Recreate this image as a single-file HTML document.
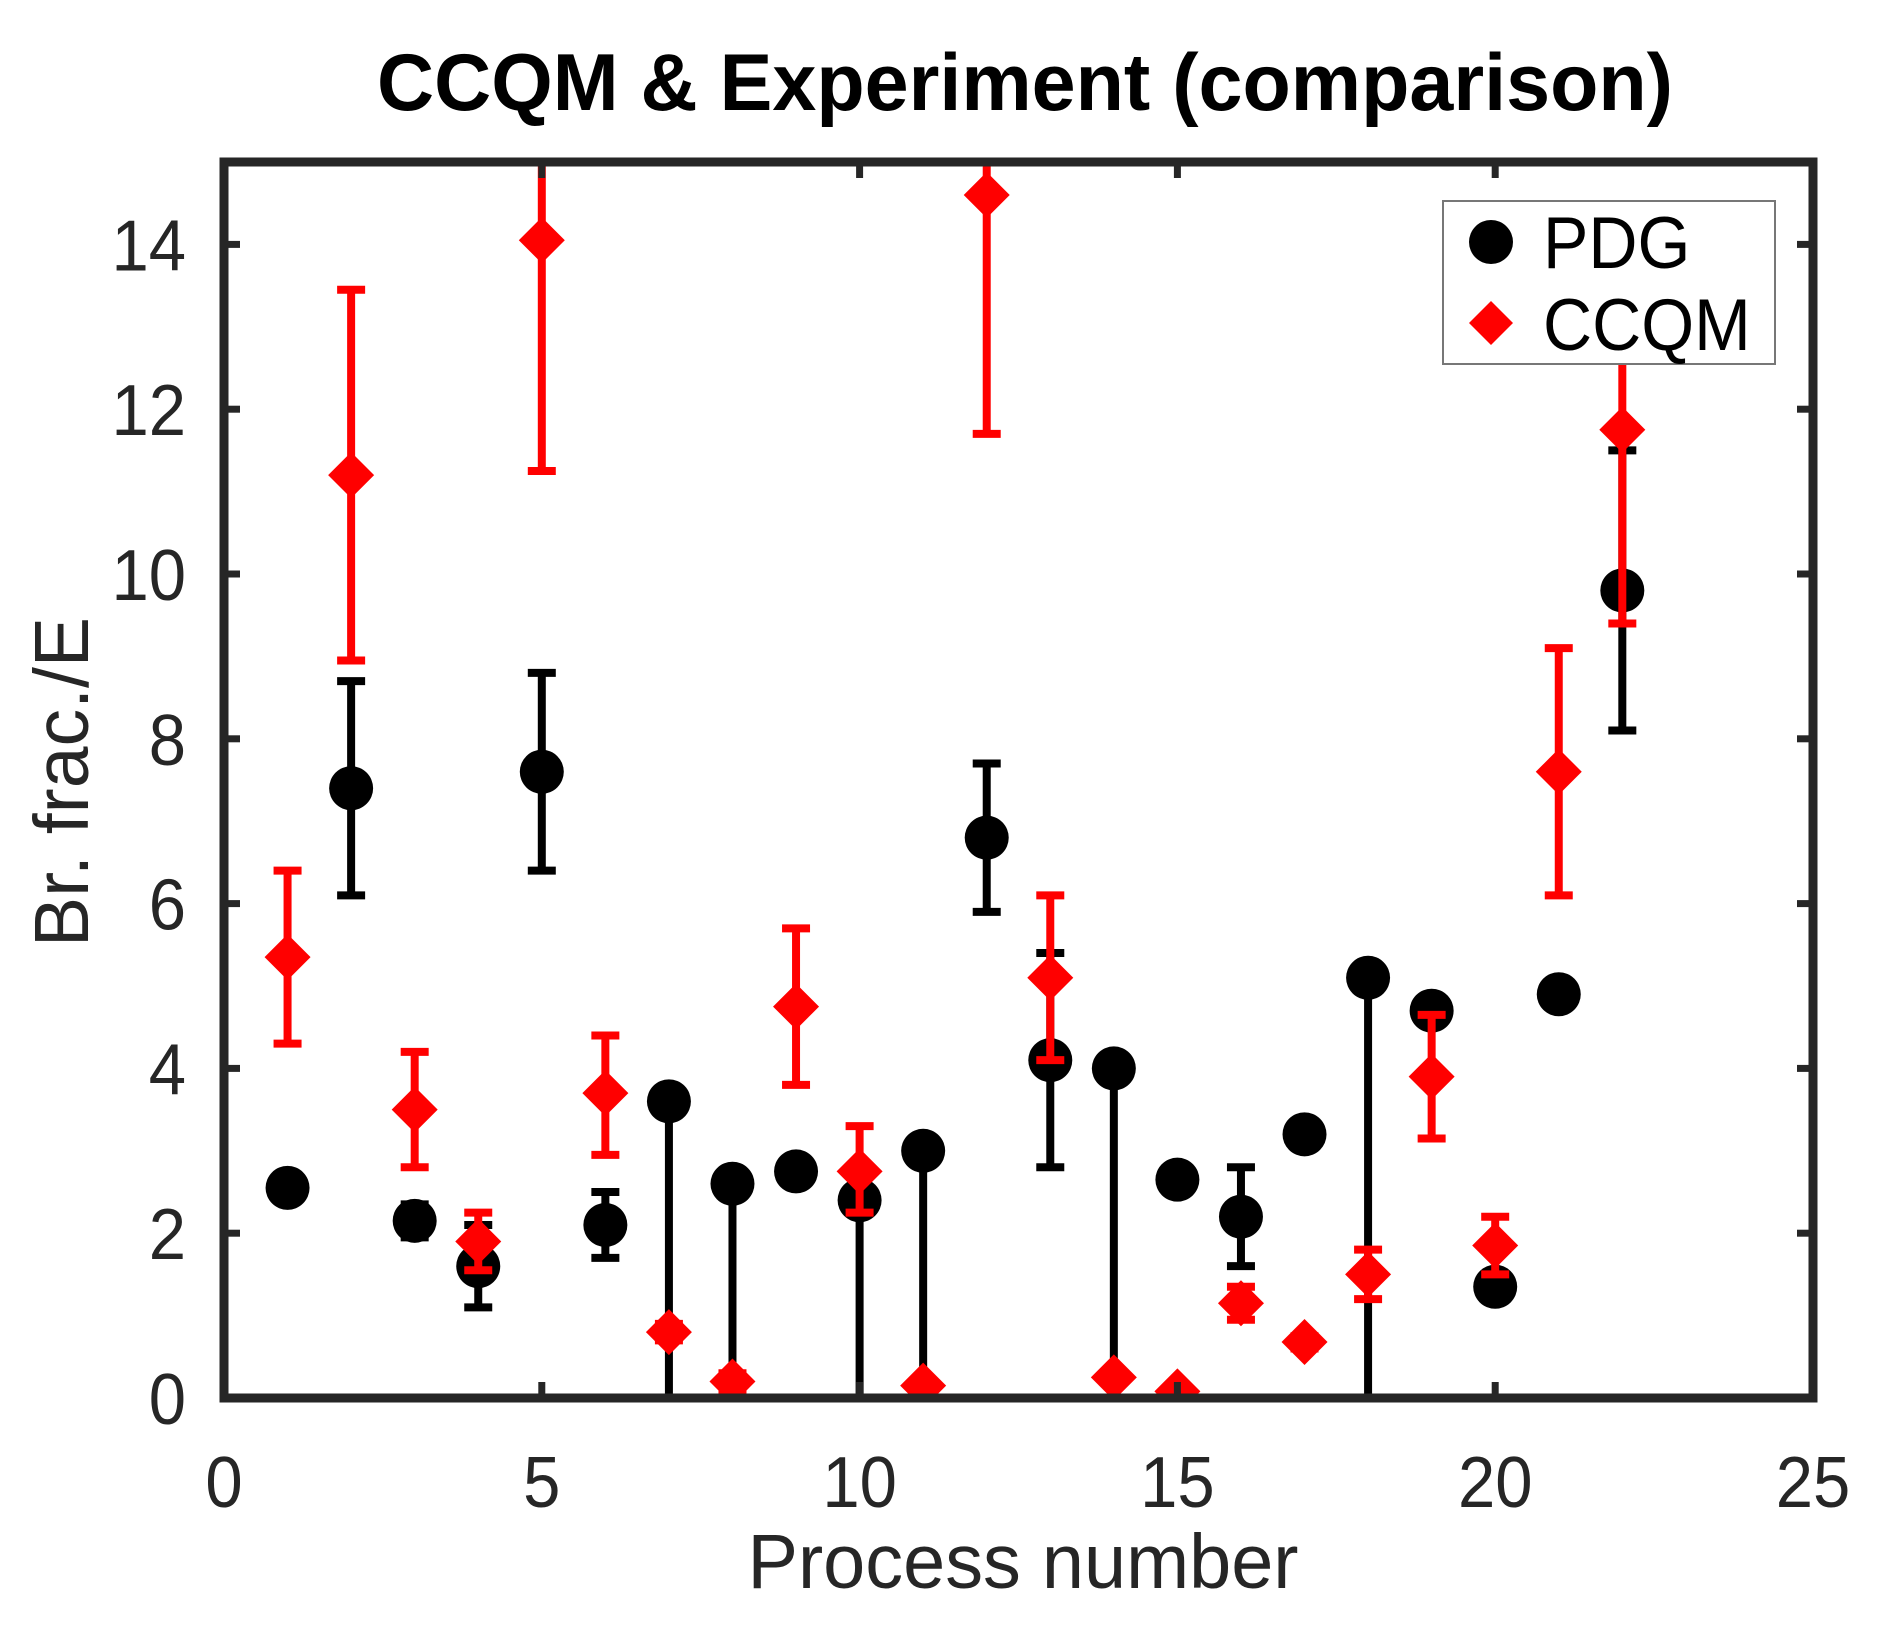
<!DOCTYPE html>
<html><head><meta charset="utf-8"><style>
html,body{margin:0;padding:0;background:#fff;}
svg{display:block;}
text{font-family:"Liberation Sans",Arial,sans-serif;}
</style></head><body>
<svg id="chart" width="1884" height="1626" viewBox="0 0 1884 1626" xmlns="http://www.w3.org/2000/svg">
<defs><clipPath id="plotclip"><rect x="224" y="162" width="1589" height="1236"/></clipPath></defs>
<rect width="1884" height="1626" fill="#fff"/>
<text transform="translate(1025,110) scale(1,1.12)" text-anchor="middle" font-size="72" font-weight="bold" fill="#000" textLength="1296" lengthAdjust="spacingAndGlyphs">CCQM &amp; Experiment (comparison)</text>
<g id="grid"></g>
<g id="marks" clip-path="url(#plotclip)"></g>
<g id="axes"></g>
<text transform="translate(1023,1588) scale(1,1.1)" text-anchor="middle" font-size="70" fill="#262626" textLength="551" lengthAdjust="spacingAndGlyphs">Process number</text>
<text transform="translate(88,782) rotate(-90) scale(1,1.1)" text-anchor="middle" font-size="70" fill="#262626" textLength="330" lengthAdjust="spacingAndGlyphs">Br. frac./E</text>
<g id="legend">
<rect x="1443" y="201" width="332" height="163" fill="#fff" stroke="#777" stroke-width="2"/>
<circle cx="1491" cy="242" r="22" fill="#000"/>
<text transform="translate(1543,268) scale(1,1.08)" font-size="68" fill="#000">PDG</text>
<polygon points="1491,301 1513,323 1491,345 1469,323" fill="#f00"/>
<text transform="translate(1543,350) scale(1,1.08)" font-size="68" fill="#000">CCQM</text>
</g>
</svg>
<script>
const processNumbers = [1,2,3,4,5,6,7,8,9,10,11,12,13,14,15,16,17,18,19,20,21,22];
const pdgValues = [2.55,7.4,2.15,1.6,7.6,2.1,3.6,2.6,2.75,2.4,3.0,6.8,4.1,4.0,2.65,2.2,3.2,5.1,4.7,1.35,4.9,9.8];
const pdgLow    = [2.55,6.1,1.95,1.1,6.4,1.7,0,0,2.75,0,0,5.9,2.8,0,2.65,1.6,3.1,0,4.7,1.35,4.9,8.1];
const pdgHigh   = [2.55,8.7,2.35,2.1,8.8,2.5,3.6,2.6,2.75,2.4,3.0,7.7,5.4,4.0,2.65,2.8,3.3,5.1,4.7,1.35,4.9,11.5];
const ccqmValues = [5.35,11.2,3.5,1.9,14.05,3.7,0.8,0.2,4.75,2.75,0.15,14.6,5.1,0.25,0.08,1.15,0.68,1.5,3.9,1.85,7.6,11.75];
const ccqmLow    = [4.3,8.95,2.8,1.55,11.25,2.95,0.7,0.1,3.8,2.25,0.1,11.7,4.1,0.2,0.05,0.95,0.6,1.2,3.15,1.5,6.1,9.4];
const ccqmHigh   = [6.4,13.45,4.2,2.25,16.9,4.4,0.9,0.3,5.7,3.3,0.2,17.5,6.1,0.3,0.1,1.35,0.75,1.8,4.65,2.2,9.1,14.1];
const xTicks = [0,5,10,15,20,25];
const yTicks = [0,2,4,6,8,10,12,14];

const NS='http://www.w3.org/2000/svg';
const X0=224,X1=1813,Y0=1398,Y1=162,XMAX=25,YMAX=15;
function sx(v){return X0+(X1-X0)*v/XMAX;}
function sy(v){return Y0-(Y0-Y1)*v/YMAX;}
function mk(tag,attrs,parent){const e=document.createElementNS(NS,tag);for(const k in attrs)e.setAttribute(k,attrs[k]);parent.appendChild(e);return e;}
const marks=document.getElementById('marks');
const axes=document.getElementById('axes');

function errbar(i,lo,hi,color,name){
  const g=mk('g',{},marks);
  
  
  const x=sx(processNumbers[i]);
  if(hi-lo<1e-9)return;
  mk('line',{x1:x,x2:x,y1:sy(lo),y2:sy(hi),stroke:color,'stroke-width':8},g);
  mk('line',{x1:x-14,x2:x+14,y1:sy(lo),y2:sy(lo),stroke:color,'stroke-width':8},g);
  mk('line',{x1:x-14,x2:x+14,y1:sy(hi),y2:sy(hi),stroke:color,'stroke-width':8},g);
}
for(let i=0;i<processNumbers.length;i++){
  errbar(i,pdgLow[i],pdgHigh[i],'#000','pdg-errorbar-'+processNumbers[i]);
}
for(let i=0;i<processNumbers.length;i++){
  const c=mk('circle',{cx:sx(processNumbers[i]),cy:sy(pdgValues[i]),r:22,fill:'#000'},marks);
  
  
}
for(let i=0;i<processNumbers.length;i++){
  errbar(i,ccqmLow[i],ccqmHigh[i],'#f00','ccqm-errorbar-'+processNumbers[i]);
}
for(let i=0;i<processNumbers.length;i++){
  const x=sx(processNumbers[i]),y=sy(ccqmValues[i]),d=23;
  const p=mk('polygon',{points:`${x},${y-d} ${x+d},${y} ${x},${y+d} ${x-d},${y}`,fill:'#f00'},marks);
  
  
}
const box=mk('rect',{x:X0,y:Y1,width:X1-X0,height:Y0-Y1,fill:'none',stroke:'#262626','stroke-width':9},axes);


for(const t of xTicks){
  const x=sx(t);
  mk('line',{x1:x,x2:x,y1:Y0,y2:Y0-16,stroke:'#262626','stroke-width':7},axes);
  mk('line',{x1:x,x2:x,y1:Y1,y2:Y1+16,stroke:'#262626','stroke-width':7},axes);
  const tx=mk('text',{transform:`translate(${x},1507) scale(1,1.08)`,'text-anchor':'middle','font-size':67,fill:'#262626'},axes);
  tx.textContent=t;
  
  
}
for(const t of yTicks){
  const y=sy(t);
  mk('line',{x1:X0,x2:X0+16,y1:y,y2:y,stroke:'#262626','stroke-width':7},axes);
  mk('line',{x1:X1,x2:X1-16,y1:y,y2:y,stroke:'#262626','stroke-width':7},axes);
  const ty=mk('text',{transform:`translate(186,${y+26}) scale(1,1.08)`,'text-anchor':'end','font-size':67,fill:'#262626'},axes);
  ty.textContent=t;
  
  
}
</script>
</body></html>
